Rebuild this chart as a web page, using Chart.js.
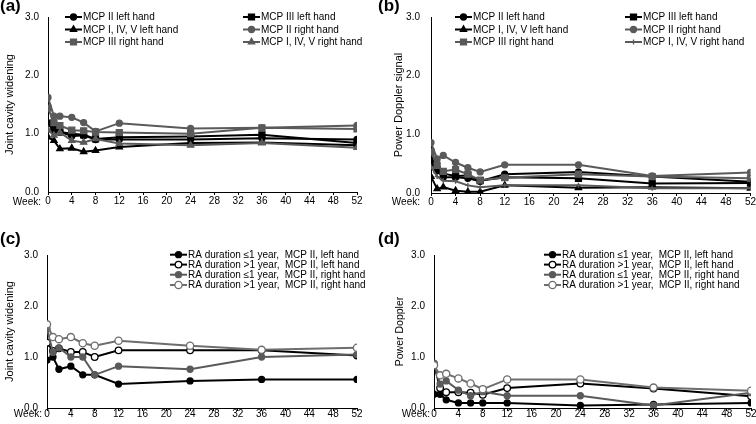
<!DOCTYPE html>
<html>
<head>
<meta charset="utf-8">
<script src="https://cdn.jsdelivr.net/npm/chart.js@4/dist/chart.umd.min.js"></script>
<style>
  html, body { margin: 0; padding: 0; background: #fff; }
  body { width: 756px; height: 424px; position: relative; overflow: hidden; font-family: Arial, 'Liberation Sans', sans-serif; }
  canvas { position: absolute; }
  .lbl { position: absolute; font-weight: bold; font-size: 17px; line-height: 17px; color: #000; }
</style>
</head>
<body>
<canvas id="ca" width="378" height="212" style="left:0;top:0"></canvas>
<canvas id="cb" width="378" height="212" style="left:378px;top:0"></canvas>
<canvas id="cc" width="378" height="212" style="left:0;top:212px"></canvas>
<canvas id="cd" width="378" height="212" style="left:378px;top:212px"></canvas>
<div class="lbl" style="left:0;top:-3px">(a)</div>
<div class="lbl" style="left:378px;top:-3px">(b)</div>
<div class="lbl" style="left:0;top:230px">(c)</div>
<div class="lbl" style="left:378px;top:230px">(d)</div>
<script>
// ---------- data ----------
const weeks = [0, 1, 2, 4, 6, 8, 12, 24, 36, 52];
const xTicks = [0, 4, 8, 12, 16, 20, 24, 28, 32, 36, 40, 44, 48, 52];
const yTicks = [0, 1, 2, 3];

const seriesNamesAB = ["MCP II left hand", "MCP III left hand", "MCP I, IV, V left hand",
                       "MCP II right hand", "MCP III right hand", "MCP I, IV, V right hand"];
const seriesNamesCD = ["RA duration \u22641 year,  MCP II, left hand", "RA duration >1 year,  MCP II, left hand",
                       "RA duration \u22641 year,  MCP II, right hand", "RA duration >1 year,  MCP II, right hand"];

// (a) Joint cavity widening
const aMcp2Left   = [1.17, 1.06, 1.03, 0.96, 0.97, 0.90, 0.90, 0.90, 0.92, 0.90];
const aMcp3Left   = [1.18, 1.09, 1.03, 1.00, 0.98, 0.91, 0.94, 0.95, 0.98, 0.84];
const aMcp145Left = [0.94, 0.88, 0.74, 0.75, 0.69, 0.71, 0.77, 0.84, 0.85, 0.80];
const aMcp2Right  = [1.62, 1.30, 1.30, 1.28, 1.19, 1.04, 1.18, 1.09, 1.10, 1.14];
const aMcp3Right  = [1.44, 1.19, 1.14, 1.06, 1.05, 1.03, 1.02, 1.00, 1.10, 1.08];
const aMcp145Right= [1.06, 0.97, 1.02, 0.88, 0.85, 0.91, 0.83, 0.80, 0.84, 0.76];

// (b) Power Doppler signal
const bMcp2Left   = [0.67, 0.38, 0.27, 0.27, 0.25, 0.20, 0.32, 0.36, 0.28, 0.19];
const bMcp3Left   = [0.50, 0.40, 0.33, 0.29, 0.30, 0.21, 0.27, 0.25, 0.16, 0.17];
const bMcp145Left = [0.28, 0.07, 0.10, 0.04, 0.02, 0.02, 0.13, 0.09, 0.10, 0.08];
const bMcp2Right  = [0.86, 0.58, 0.64, 0.52, 0.43, 0.36, 0.48, 0.48, 0.29, 0.35];
const bMcp3Right  = [0.70, 0.47, 0.37, 0.40, 0.32, 0.22, 0.26, 0.32, 0.28, 0.25];
const bMcp145Right= [0.45, 0.28, 0.21, 0.20, 0.13, 0.10, 0.13, 0.13, 0.08, 0.08];

// (c) Joint cavity widening by RA duration
const cShortLeft  = [0.94, 1.00, 0.76, 0.82, 0.65, 0.65, 0.47, 0.53, 0.56, 0.56];
const cLongLeft   = [1.28, 1.12, 1.17, 1.10, 1.10, 1.00, 1.13, 1.13, 1.13, 1.03];
const cShortRight = [1.56, 1.09, 1.18, 1.00, 1.00, 0.65, 0.82, 0.76, 1.00, 1.05];
const cLongRight  = [1.64, 1.39, 1.35, 1.39, 1.27, 1.22, 1.32, 1.22, 1.14, 1.18];

// (d) Power Doppler by RA duration
const dShortLeft  = [0.27, 0.27, 0.16, 0.10, 0.10, 0.10, 0.10, 0.05, 0.07, 0.10];
const dLongLeft   = [0.86, 0.39, 0.31, 0.31, 0.30, 0.26, 0.39, 0.48, 0.38, 0.23];
const dShortRight = [0.88, 0.47, 0.53, 0.35, 0.24, 0.32, 0.24, 0.24, 0.05, 0.30];
const dLongRight  = [0.84, 0.64, 0.67, 0.58, 0.48, 0.37, 0.56, 0.56, 0.40, 0.34];

// ---------- styles ----------
const FONT = "Arial, 'Liberation Sans', sans-serif";
const BLACK = "#000000";
const GRAY = "#5a5a5a";
const GRAY2 = "#6e6e6e";

function pts(vals) { return vals.map((v, i) => ({ x: weeks[i], y: v })); }

function ds(label, vals, color, style, radius, fill) {
  return {
    label, data: pts(vals),
    borderColor: color, backgroundColor: fill || color,
    pointBackgroundColor: fill || color, pointBorderColor: color,
    pointStyle: style, pointRadius: radius, pointHoverRadius: radius,
    pointBorderWidth: 1.3,
    borderWidth: 2, tension: 0, fill: false
  };
}

function drawMarker(ctx, d, x, y) {
  const r = d.pointRadius;
  ctx.save();
  ctx.fillStyle = d.pointBackgroundColor;
  ctx.strokeStyle = d.pointBorderColor;
  ctx.lineWidth = d.pointBorderWidth;
  ctx.beginPath();
  if (d.pointStyle === 'circle') {
    ctx.arc(x, y, r, 0, Math.PI * 2);
    ctx.fill(); ctx.stroke();
  } else if (d.pointStyle === 'rect') {
    const s = Math.SQRT1_2 * r;
    ctx.rect(x - s, y - s, 2 * s, 2 * s);
    ctx.fill(); ctx.stroke();
  } else if (d.pointStyle === 'triangle') {
    ctx.moveTo(x, y - r);
    ctx.lineTo(x + r * 0.866, y + r * 0.5);
    ctx.lineTo(x - r * 0.866, y + r * 0.5);
    ctx.closePath();
    ctx.fill(); ctx.stroke();
  } else if (d.pointStyle === 'cross') {
    ctx.moveTo(x - r, y); ctx.lineTo(x + r, y);
    ctx.moveTo(x, y - r); ctx.lineTo(x, y + r);
    ctx.stroke();
  }
  ctx.restore();
}

const customPlugin = {
  id: 'custom',
  afterDraw(chart, args, opts) {
    const ctx = chart.ctx;
    const dsets = chart.data.datasets;
    ctx.save();
    ctx.font = "10px " + FONT;
    ctx.textBaseline = 'middle';
    ctx.fillStyle = '#000';
    opts.legendPos.forEach((p, i) => {
      const d = dsets[i];
      ctx.save();
      ctx.strokeStyle = d.borderColor;
      ctx.lineWidth = d.borderWidth;
      ctx.beginPath();
      ctx.moveTo(p[0], p[1]);
      ctx.lineTo(p[0] + 17, p[1]);
      ctx.stroke();
      ctx.restore();
      drawMarker(ctx, d, p[0] + 8.5, p[1]);
      ctx.fillStyle = '#000';
      ctx.textAlign = 'left';
      ctx.fillText(d.label, p[0] + 18, p[1] + 0.5);
    });
    // "Week:" label
    ctx.textAlign = 'right';
    ctx.font = "10px " + FONT;
    ctx.fillText("Week:", opts.weekRight, chart.chartArea.bottom + opts.weekDy);
    ctx.restore();
  }
};

function makePanel(id, p) {
  new Chart(document.getElementById(id), {
    type: 'line',
    data: { datasets: p.datasets },
    plugins: [customPlugin],
    options: {
      responsive: false,
      animation: false,
      events: [],
      layout: { padding: { left: 0, top: p.top, right: 378 - p.right, bottom: 212 - p.bottom - p.xH } },
      plugins: {
        legend: { display: false },
        title: { display: false },
        tooltip: { enabled: false },
        custom: { legendPos: p.legendPos, weekRight: p.weekRight, weekDy: p.weekDy }
      },
      scales: {
        x: {
          type: 'linear', min: 0, max: 52,
          afterBuildTicks(s) { s.ticks = xTicks.map(v => ({ value: v })); },
          afterFit(s) { s.height = p.xH; s.paddingLeft = 0; s.paddingRight = 0; },
          ticks: { autoSkip: false, maxRotation: 0, minRotation: 0, padding: p.xPad,
                   color: '#000', font: { family: FONT, size: 10 }, callback: v => String(v) },
          grid: { drawOnChartArea: false, drawTicks: true, tickLength: 3, color: '#000', lineWidth: 1 },
          border: { display: true, color: '#000', width: 1 }
        },
        y: {
          type: 'linear', min: 0, max: 3,
          afterBuildTicks(s) { s.ticks = yTicks.map(v => ({ value: v })); },
          afterFit(s) { s.width = p.left; s.paddingTop = 0; s.paddingBottom = 0; },
          ticks: { padding: p.yPad, color: '#000', font: { family: FONT, size: 10 }, callback: v => Number(v).toFixed(1) },
          grid: { drawOnChartArea: false, drawTicks: false },
          border: { display: true, color: '#000', width: 1 },
          title: { display: true, text: p.yTitle, color: '#000', font: { family: FONT, size: p.titleSize },
                   padding: { top: p.titlePad, bottom: 0 } }
        }
      }
    }
  });
}

function withOrder(arr) { arr.forEach((d, i) => { d.order = -i; }); return arr; }

makePanel('ca', {
  left: 48, right: 357, top: 17, bottom: 192, xH: 20, xPad: 0, yPad: 9,
  yTitle: "Joint cavity widening", titleSize: 11, titlePad: 3, weekRight: 41, weekDy: 10,
  legendPos: [[65, 17], [243, 17], [65, 29.5], [243, 29.5], [65, 42], [243, 42]],
  datasets: withOrder([
    ds(seriesNamesAB[0], aMcp2Left, BLACK, 'circle', 3),
    ds(seriesNamesAB[1], aMcp3Left, BLACK, 'rect', 4.2),
    ds(seriesNamesAB[2], aMcp145Left, BLACK, 'triangle', 3.6),
    ds(seriesNamesAB[3], aMcp2Right, GRAY, 'circle', 3),
    ds(seriesNamesAB[4], aMcp3Right, GRAY, 'rect', 4.2),
    ds(seriesNamesAB[5], aMcp145Right, GRAY, 'triangle', 3.6)
  ])
});

makePanel('cb', {
  left: 53, right: 374, top: 17, bottom: 193, xH: 19, xPad: 0, yPad: 11,
  yTitle: "Power Doppler signal", titleSize: 11, titlePad: 14, weekRight: 42, weekDy: 9,
  legendPos: [[77, 17], [247, 17], [77, 29.5], [247, 29.5], [77, 42], [247, 42]],
  datasets: withOrder([
    ds(seriesNamesAB[0], bMcp2Left, BLACK, 'circle', 3),
    ds(seriesNamesAB[1], bMcp3Left, BLACK, 'rect', 4.2),
    ds(seriesNamesAB[2], bMcp145Left, BLACK, 'triangle', 3.6),
    ds(seriesNamesAB[3], bMcp2Right, GRAY, 'circle', 3),
    ds(seriesNamesAB[4], bMcp3Right, GRAY, 'rect', 4.2),
    ds(seriesNamesAB[5], bMcp145Right, GRAY, 'cross', 2.5)
  ])
});

makePanel('cc', {
  left: 47, right: 357, top: 43, bottom: 196, xH: 16, xPad: -3, yPad: 9,
  yTitle: "Joint cavity widening", titleSize: 11, titlePad: 3, weekRight: 42, weekDy: 6,
  legendPos: [[170, 42.7], [170, 52.6], [170, 62.7], [170, 73]],
  datasets: withOrder([
    ds(seriesNamesCD[0], cShortLeft, BLACK, 'circle', 3),
    ds(seriesNamesCD[1], cLongLeft, BLACK, 'circle', 3.3, '#ffffff'),
    ds(seriesNamesCD[2], cShortRight, GRAY, 'circle', 3),
    ds(seriesNamesCD[3], cLongRight, GRAY2, 'circle', 3.6, '#ffffff')
  ])
});

makePanel('cd', {
  left: 56, right: 374, top: 43, bottom: 196, xH: 16, xPad: -3, yPad: 9,
  yTitle: "Power Doppler", titleSize: 10.5, titlePad: 16, weekRight: 52, weekDy: 6,
  legendPos: [[166, 42.7], [166, 52.6], [166, 62.7], [166, 73]],
  datasets: withOrder([
    ds(seriesNamesCD[0], dShortLeft, BLACK, 'circle', 3),
    ds(seriesNamesCD[1], dLongLeft, BLACK, 'circle', 3.3, '#ffffff'),
    ds(seriesNamesCD[2], dShortRight, GRAY, 'circle', 3),
    ds(seriesNamesCD[3], dLongRight, GRAY2, 'circle', 3.6, '#ffffff')
  ])
});
</script>
</body>
</html>
